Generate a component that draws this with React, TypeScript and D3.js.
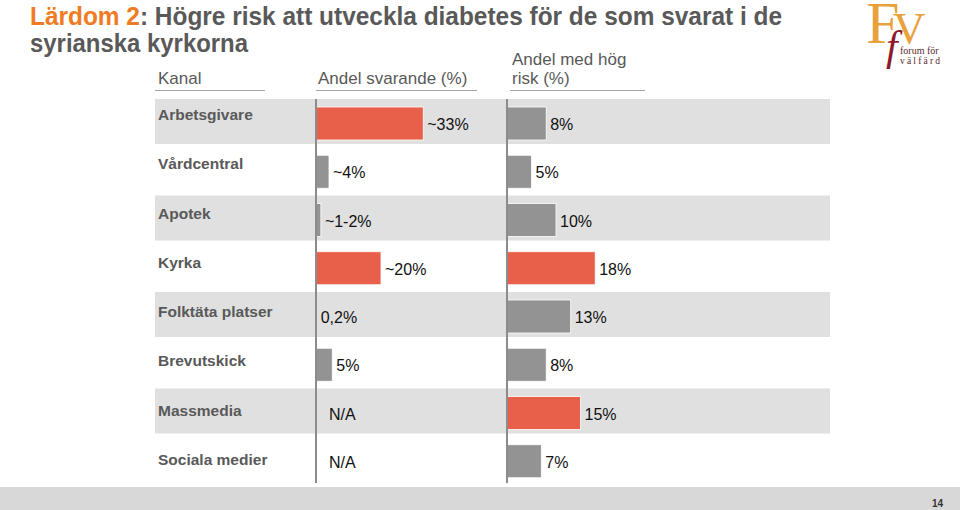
import React from "react";
import * as d3 from "d3";

const categories = [
  "Arbetsgivare",
  "Vårdcentral",
  "Apotek",
  "Kyrka",
  "Folktäta platser",
  "Brevutskick",
  "Massmedia",
  "Sociala medier",
];
const responseShare: (number | null)[] = [33, 4, 1.5, 20, 0.2, 5, null, null];
const responseLabels = ["~33%", "~4%", "~1-2%", "~20%", "0,2%", "5%", "N/A", "N/A"];
const responseHighlight = [true, false, false, true, false, false, false, false];
const highRisk = [8, 5, 10, 18, 13, 8, 15, 7];
const highRiskLabels = ["8%", "5%", "10%", "18%", "13%", "8%", "15%", "7%"];
const riskHighlight = [false, false, false, true, false, false, true, false];

const ORANGE = "#E9604A";
const GREY_BAR = "#939393";
const TEXT = "#595959";
const FONT = "Liberation Sans, Arial, sans-serif";

export default function App() {
  const W = 960;
  const H = 510;
  const y = d3.scaleBand<string>().domain(categories).range([99, 485]);
  const labelY = d3.scalePoint<string>().domain(categories).range([120, 465]);
  const x1 = d3.scaleLinear().domain([0, 20]).range([316, 381]);
  const x2 = d3.scaleLinear().domain([0, 20]).range([507, 605]);
  const barH = 33;
  const barOff = 8;

  return (
    <svg
      width={W}
      height={H}
      style={{ position: "absolute", left: 0, top: 0, background: "#fff" }}
      fontFamily={FONT}
    >
      <rect x={0} y={0} width={W} height={H} fill="#fff" />
      {/* title */}
      <text
        x={30}
        y={25}
        fontSize={26}
        fontWeight="bold"
        fill={TEXT}
        textLength={752}
        lengthAdjust="spacingAndGlyphs"
      >
        <tspan fill="#F07B22">Lärdom 2</tspan>
        <tspan>: Högre risk att utveckla diabetes för de som svarat i de</tspan>
      </text>
      <text
        x={30}
        y={52}
        fontSize={26}
        fontWeight="bold"
        fill={TEXT}
        textLength={218}
        lengthAdjust="spacingAndGlyphs"
      >
        syrianska kyrkorna
      </text>

      {/* logo */}
      <g fontFamily="Liberation Serif, DejaVu Serif, serif">
        <text x={866} y={43} fontSize={60} fill="#E9A23B">F</text>
        <text x={893} y={43} fontSize={45} fill="#E9A23B">V</text>
        <text x={886} y={60} fontSize={42} fontStyle="italic" fill="#8B1A2B">f</text>
        <text x={900} y={54} fontSize={10} fill="#5a2a2a">forum för</text>
        <text x={900} y={64} fontSize={9.5} fill="#5a2a2a" letterSpacing={2.2}>välfärd</text>
      </g>

      {/* headers */}
      <g fontSize={17} fill={TEXT}>
        <text x={158} y={84}>Kanal</text>
        <text x={318} y={84}>Andel svarande (%)</text>
        <text x={512} y={65}>Andel med hög</text>
        <text x={512} y={84}>risk (%)</text>
      </g>
      <g stroke="#a6a6a6" strokeWidth={1}>
        <line x1={155} x2={265} y1={90.5} y2={90.5} />
        <line x1={316} x2={477} y1={90.5} y2={90.5} />
        <line x1={510} x2={645} y1={90.5} y2={90.5} />
      </g>

      {/* row bands */}
      {categories.map((c, i) =>
        i % 2 === 0 ? (
          <rect key={"band" + c} x={155} y={y(c)!} width={675} height={45} fill="#e0e0e0" />
        ) : null
      )}

      {/* category labels */}
      {categories.map((c) => (
        <text key={"lab" + c} x={158} y={labelY(c)!} fontSize={15.5} fontWeight="bold" fill={TEXT}>
          {c}
        </text>
      ))}

      {/* column 1 bars */}
      {categories.map((c, i) => {
        const v = responseShare[i];
        const cy = y(c)! + barOff + barH / 2;
        const end = v == null ? x1(0) + 9 : x1(v);
        return (
          <g key={"b1" + c}>
            {v != null && v > 0.5 ? (
              <rect
                x={x1(0)}
                y={y(c)! + barOff}
                width={x1(v) - x1(0)}
                height={barH}
                fill={responseHighlight[i] ? ORANGE : GREY_BAR}
                stroke="#fff"
                strokeWidth={0.8}
              />
            ) : null}
            <text x={end + 4} y={cy + 6.5} fontSize={16} fill="#111">
              {responseLabels[i]}
            </text>
          </g>
        );
      })}

      {/* column 2 bars */}
      {categories.map((c, i) => {
        const v = highRisk[i];
        const cy = y(c)! + barOff + barH / 2;
        return (
          <g key={"b2" + c}>
            <rect
              x={x2(0)}
              y={y(c)! + barOff}
              width={x2(v) - x2(0)}
              height={barH}
              fill={riskHighlight[i] ? ORANGE : GREY_BAR}
              stroke="#fff"
              strokeWidth={0.8}
            />
            <text x={x2(v) + 4} y={cy + 6.5} fontSize={16} fill="#111">
              {highRiskLabels[i]}
            </text>
          </g>
        );
      })}

      {/* axis lines */}
      <line x1={316} x2={316} y1={99} y2={483} stroke="#8c8c8c" strokeWidth={2} />
      <line x1={507} x2={507} y1={99} y2={483} stroke="#8c8c8c" strokeWidth={2} />

      {/* footer */}
      <rect x={0} y={487} width={W} height={23} fill="#d8d8d8" />
      <text x={932} y={507} fontSize={10} fontWeight="bold" fill="#333">14</text>
    </svg>
  );
}
